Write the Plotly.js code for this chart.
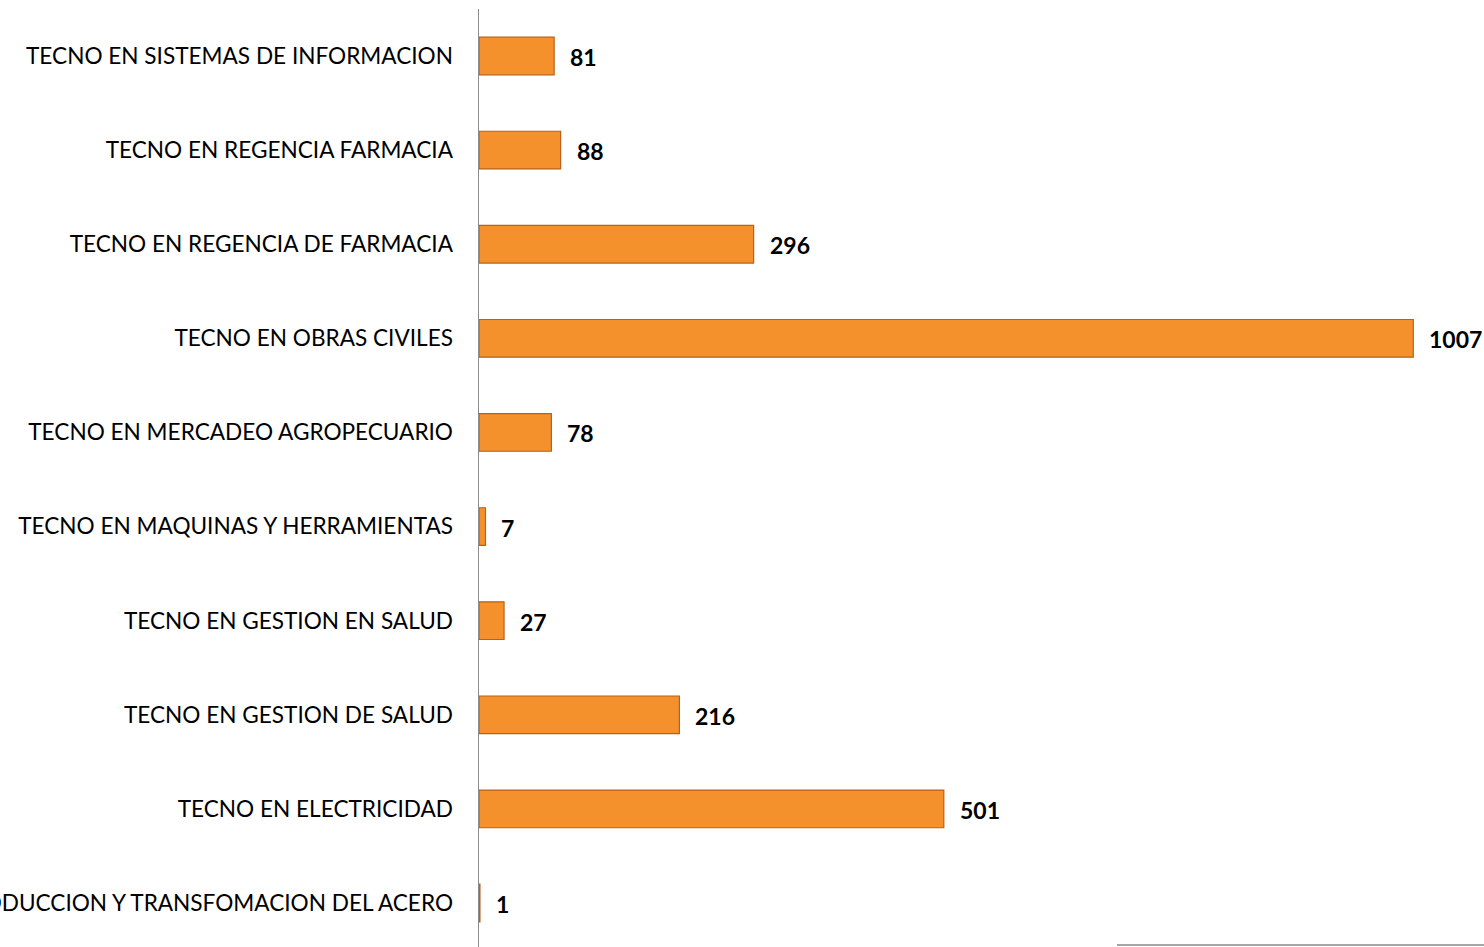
<!DOCTYPE html>
<html>
<head>
<meta charset="utf-8">
<script src="https://cdn.plot.ly/plotly-3.0.1.min.js"></script>
<style>
  html, body { margin: 0; padding: 0; background: #fff; }
  #chart { width: 1484px; height: 947px; }
  #rule { position: absolute; left: 1117px; top: 944px; width: 367px; height: 2px; background: #a6a6a6; }
</style>
</head>
<body>
<div id="chart"></div>
<div id="rule"></div>
<script>
const categories = [
  "TECNO EN SISTEMAS DE INFORMACION",
  "TECNO EN REGENCIA FARMACIA",
  "TECNO EN REGENCIA DE FARMACIA",
  "TECNO EN OBRAS CIVILES",
  "TECNO EN MERCADEO AGROPECUARIO",
  "TECNO EN MAQUINAS Y HERRAMIENTAS",
  "TECNO EN GESTION EN SALUD",
  "TECNO EN GESTION DE SALUD",
  "TECNO EN ELECTRICIDAD",
  "TECNO EN PRODUCCION Y TRANSFOMACION DEL ACERO"
];
const values = [81, 88, 296, 1007, 78, 7, 27, 216, 501, 1];

const trace = {
  type: 'bar',
  orientation: 'h',
  y: categories,
  x: values,
  width: 0.4,
  marker: { color: '#F5912D', line: { color: '#B9601A', width: 1.2 } },
  hoverinfo: 'x+y'
};

const annotations = categories.map((c, i) => ({
  x: values[i], y: c, xref: 'x', yref: 'y',
  text: '<b>' + values[i] + '</b>',
  showarrow: false, xanchor: 'left', yanchor: 'middle',
  xshift: 14, yshift: -1,
  font: { family: 'Lato, sans-serif', size: 23, color: '#000' }
}));

const layout = {
  width: 1484, height: 947,
  margin: { l: 479, r: 3, t: 9, b: 0, pad: 0 },
  paper_bgcolor: '#fff', plot_bgcolor: '#fff',
  showlegend: false,
  bargap: 0.6,
  xaxis: {
    range: [0, 1080], visible: false, fixedrange: true
  },
  yaxis: {
    type: 'category',
    range: [9.467, -0.499],
    showline: true, linecolor: '#8c8c8c', linewidth: 1.5,
    showgrid: false, zeroline: false,
    ticks: 'outside', ticklen: 20, tickcolor: 'rgba(0,0,0,0)',
    automargin: false,
    tickfont: { family: 'Lato, sans-serif', size: 22.6, color: '#000' }
  },
  annotations: annotations
};

Plotly.newPlot('chart', [trace], layout, { displayModeBar: false, staticPlot: true });
</script>
</body>
</html>
